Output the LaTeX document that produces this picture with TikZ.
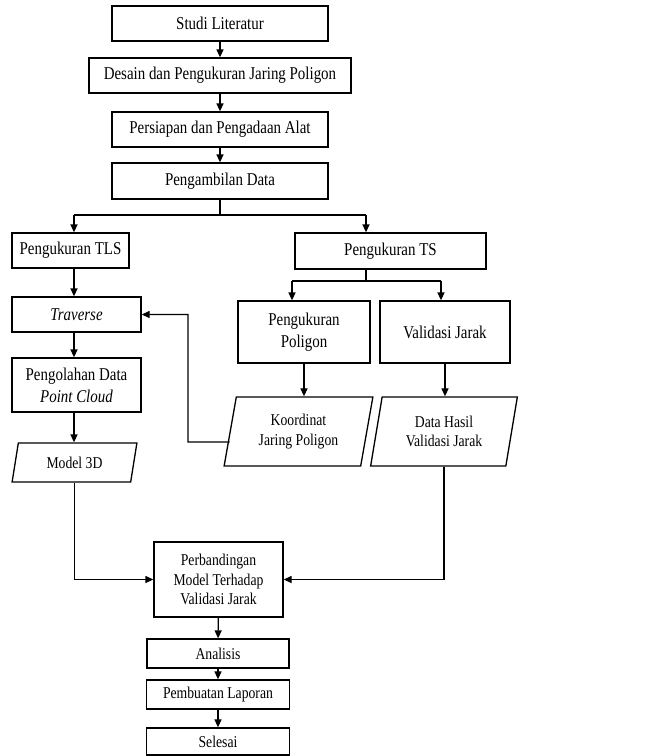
\documentclass[tikz,border=0pt]{standalone}
\usepackage{fontspec}
\setmainfont[FakeStretch=0.83]{Liberation Serif}
\usepackage{tikz}
\usetikzlibrary{shapes.geometric, arrows.meta}
\tikzstyle{arrow} = [line width=1.3pt,-{Triangle[length=8pt,width=7pt]}]
\tikzstyle{garis} = [line width=1.3pt]
\tikzstyle{kotak} = [draw,line width=1.3pt,align=center,inner sep=2pt,font=\fontsize{18}{22}\selectfont]
\tikzstyle{kecil} = [font=\fontsize{16.5}{19.5}\selectfont]
\tikzstyle{jajar} = [draw,line width=1.3pt,align=center,inner sep=2pt,trapezium,trapezium left angle=78,trapezium right angle=102,trapezium stretches=true,font=\fontsize{16.5}{19.5}\selectfont]

\begin{document}
\begin{tikzpicture}[x=1pt,y=1pt]
				\useasboundingbox (0,0) rectangle (662,-756);
				% Tahap awal:
				\node [kotak, minimum width=216, minimum height=35] (lit) at (220,-23.5) {Studi Literatur};
				\node [kotak, minimum width=262, minimum height=35] (desain) at (220,-75.5) {Desain dan Pengukuran Jaring Poligon};
				\node [kotak, minimum width=216, minimum height=35] (siap) at (220,-129.5) {Persiapan dan Pengadaan Alat};
				\node [kotak, minimum width=216, minimum height=36] (ambil) at (220,-181) {Pengambilan Data};
				\draw [arrow] (lit) -- (desain);
				\draw [arrow] (desain) -- (siap);
				\draw [arrow] (siap) -- (ambil);
				
				% Cabang TLS dan TS:
				\coordinate (cabkiri) at (74,-215);
				\coordinate (cabkanan) at (366,-215);
				\node [kotak, minimum width=117, minimum height=35] (tls) at (70.5,-250.5) {Pengukuran TLS};
				\node [kotak, minimum width=191, minimum height=36] (ts) at (390.5,-251) {Pengukuran TS};
				\draw [garis] (ambil.south) -- (ambil.south |- cabkiri);
				\draw [garis] (cabkiri) -- (cabkanan);
				\draw [arrow] (cabkiri) -- (cabkiri |- tls.north);
				\draw [arrow] (cabkanan) -- (cabkanan |- ts.north);
				
				% Kolom kiri (TLS):
				\node [kotak, minimum width=129, minimum height=35] (trav) at (76.5,-314.5) {\itshape Traverse};
				\node [kotak, minimum width=129, minimum height=54] (olah) at (76.5,-385) {Pengolahan Data\\ \itshape Point Cloud};
				\node [jajar, minimum width=125, minimum height=39] (model) at (74.5,-462.5) {Model 3D};
				\draw [arrow] (cabkiri |- tls.south) -- (cabkiri |- trav.north);
				\draw [arrow] (cabkiri |- trav.south) -- (cabkiri |- olah.north);
				\draw [arrow] (cabkiri |- olah.south) -- (cabkiri |- model.north);
				
				% Kolom kanan (TS):
				\coordinate (tskiri) at (292,-281);
				\coordinate (tskanan) at (441,-281);
				\node [kotak, minimum width=132, minimum height=62] (poli) at (304,-332) {Pengukuran\\Poligon};
				\node [kotak, minimum width=130, minimum height=62] (valid) at (445,-332) {Validasi Jarak};
				\draw [garis] (cabkanan |- ts.south) -- (cabkanan |- tskiri);
				\draw [garis] (tskiri) -- (tskanan);
				\draw [arrow] (tskiri) -- (tskiri |- poli.north);
				\draw [arrow] (tskanan) -- (tskanan |- valid.north);
				\node [jajar, minimum width=149, minimum height=69] (koor) at (298.5,-431.5) {Koordinat\\Jaring Poligon};
				\node [jajar, minimum width=148, minimum height=69] (hasil) at (444,-431.5) {Data Hasil\\Validasi Jarak};
				\draw [arrow] (poli.south) -- (poli.south |- koor.north);
				\draw [arrow] (valid.south) -- (valid.south |- hasil.north);
				
				% Koordinat kembali ke traverse:
				\coordinate (balik) at (188,-442);
				\draw [arrow] ([yshift=-10.5pt]koor.west) -- (balik) |- (trav.east);
				
				% Perbandingan dan tahap akhir:
				\node [kotak, kecil, minimum width=129, minimum height=75] (banding) at (218.5,-579.5) {Perbandingan\\Model Terhadap\\Validasi Jarak};
				\node [kotak, kecil, minimum width=142, minimum height=29] (analisis) at (218,-653.5) {Analisis};
				\node [kotak, kecil, minimum width=143, minimum height=29] (lapor) at (218,-694.5) {Pembuatan Laporan};
				\node [kotak, kecil, minimum width=143, minimum height=27] (selesai) at (218,-741.5) {Selesai};
				\draw [arrow] (model.south) |- (banding.west);
				\draw [arrow] (hasil.south) |- (banding.east);
				\draw [arrow] (banding) -- (analisis);
				\draw [arrow] (analisis) -- (lapor);
				\draw [arrow] (lapor) -- (selesai);
\end{tikzpicture}
\end{document}
